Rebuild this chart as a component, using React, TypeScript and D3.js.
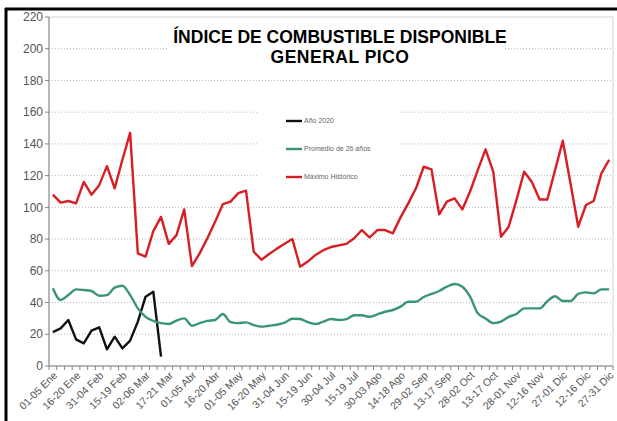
import React, { useEffect, useRef } from "react"
import * as d3 from "d3"

// tick labels, one every 3 periods of 5 days
const tickLabels: string[] = [
  "01-05 Ene", "16-20 Ene", "31-04 Feb", "15-19 Feb", "02-06 Mar", "17-21 Mar",
  "01-05 Abr", "16-20 Abr", "01-05 May", "16-20 May", "31-04 Jun", "15-19 Jun",
  "30-04 Jul", "15-19 Jul", "30-03 Ago", "14-18 Ago", "29-02 Sep", "13-17 Sep",
  "28-02 Oct", "13-17 Oct", "28-01 Nov", "12-16 Nov", "27-01 Dic", "12-16 Dic",
  "27-31 Dic",
]

const maximoHistorico: number[] = [
  108, 103, 104, 102.5, 116, 108, 114, 126, 112, 130,
  147, 71, 69, 85, 94, 77, 82.5, 98.7, 63, 71,
  80.5, 91, 102, 103.6, 109, 110.5, 72, 67, 70.6, 74,
  77, 80, 62.6, 65.8, 70, 73, 75, 76, 77, 80.5,
  85.7, 81, 85.7, 85.7, 83.6, 93.7, 102.5, 112, 125.6, 124,
  95.6, 103.6, 105.7, 98.7, 110, 123.5, 136.6, 122.5, 81.5, 87.8,
  104.6, 122.5, 116, 105, 105, 123.5, 142, 115, 87.8, 101.5,
  104, 121.4, 130,
]

const promedio26: number[] = [
  49, 41.6, 44.7, 48.3, 47.9, 47.3, 44.3, 44.7, 49.4, 50.6,
  44.7, 36.3, 31, 28.4, 27, 26.5, 28.6, 30, 25.4, 27,
  28.4, 29, 32.8, 27.7, 27, 27.5, 25.8, 24.8, 25.4, 26,
  27.3, 29.8, 29.6, 27.7, 26.5, 28, 29.6, 29, 29.6, 32,
  32, 31, 32.6, 34.2, 35.3, 37.4, 40.5, 40.5, 43.5, 45.4,
  47.3, 50, 51.7, 50, 43.7, 33.2, 30, 27, 28, 31,
  32.8, 36.3, 36.3, 36.3, 40.8, 44, 41, 41, 45.4, 46.4,
  45.8, 48.3, 48.3,
]

const anio2020: number[] = [
  21.4, 23.7, 29, 16.8, 14.3, 22.3, 24.4, 10.5, 18.5, 11.1,
  16, 28, 43.7, 46.8, 5.9,
]

const yTicks: number[] = [0, 20, 40, 60, 80, 100, 120, 140, 160, 180, 200, 220]

const series = [
  { name: "Año 2020", values: anio2020, color: "#111111", smooth: false },
  { name: "Promedio de 26 años", values: promedio26, color: "#3a9672", smooth: true },
  { name: "Máximo Histórico", values: maximoHistorico, color: "#d81e25", smooth: false },
]

export default function App() {
  const svgRef = useRef<SVGSVGElement>(null)

  useEffect(() => {
    if (!svgRef.current) return
    const svg = d3.select(svgRef.current)
    svg.selectAll("*").remove()

    const W = 617
    const H = 421
    const left = 49, right = 613, top = 17, bottom = 366
    const font = "'Liberation Sans', Arial, sans-serif"

    svg.attr("width", W).attr("height", H)
    svg.append("rect").attr("width", W).attr("height", H).attr("fill", "#fff")

    // outer frame (only left and top visible)
    svg.append("line").attr("x1", 6).attr("x2", 6).attr("y1", 8).attr("y2", H)
      .attr("stroke", "#000").attr("stroke-width", 3)
    svg.append("line").attr("x1", 5).attr("x2", W).attr("y1", 9).attr("y2", 9)
      .attr("stroke", "#000").attr("stroke-width", 3)

    const nCat = maximoHistorico.length
    const x = d3.scaleBand<number>().domain(d3.range(nCat)).range([left, right])
    const cx = (i: number) => (x(i) || 0) + x.bandwidth() / 2
    const y = d3.scaleLinear().domain([0, 220]).range([bottom, top])

    // plot area border
    svg.append("rect")
      .attr("x", left).attr("y", top)
      .attr("width", right - left).attr("height", bottom - top)
      .attr("fill", "none").attr("stroke", "#d4d4d4")

    // gridlines
    svg.append("g")
      .selectAll("line")
      .data(yTicks.filter(t => t > 0 && t < 220))
      .enter()
      .append("line")
      .attr("x1", left).attr("x2", right)
      .attr("y1", d => y(d)).attr("y2", d => y(d))
      .attr("stroke", "#b8b8b8")
      .attr("stroke-dasharray", "1,2")

    // title and legend boxes hide the gridlines behind them
    svg.append("rect").attr("x", 168).attr("y", 24).attr("width", 335).attr("height", 48).attr("fill", "#fff")
    svg.append("rect").attr("x", 257).attr("y", 100).attr("width", 143).attr("height", 96).attr("fill", "#fff")

    // title
    const title = svg.append("text")
      .attr("text-anchor", "middle")
      .attr("font-family", font)
      .attr("font-weight", "bold")
      .attr("font-size", "17.5px")
      .attr("fill", "#000")
    title.append("tspan").attr("x", 340).attr("y", 43).text("ÍNDICE DE COMBUSTIBLE DISPONIBLE")
    title.append("tspan").attr("x", 340).attr("y", 63).attr("letter-spacing", "0.5px").text("GENERAL PICO")

    // y axis
    svg.append("line").attr("x1", left).attr("x2", left).attr("y1", top).attr("y2", bottom)
      .attr("stroke", "#868686")
    const yAxis = svg.append("g")
    yAxis.selectAll("line")
      .data(yTicks)
      .enter()
      .append("line")
      .attr("x1", left - 4).attr("x2", left)
      .attr("y1", d => y(d)).attr("y2", d => y(d))
      .attr("stroke", "#868686")
    yAxis.selectAll("text")
      .data(yTicks)
      .enter()
      .append("text")
      .attr("x", 43)
      .attr("y", d => y(d))
      .attr("dy", "0.35em")
      .attr("text-anchor", "end")
      .attr("font-family", font)
      .attr("font-size", "12px")
      .attr("fill", "#555")
      .text(d => d)

    // x axis
    svg.append("line").attr("x1", left).attr("x2", right).attr("y1", bottom).attr("y2", bottom)
      .attr("stroke", "#868686")
    svg.append("g")
      .selectAll("line")
      .data(d3.range(nCat + 1))
      .enter()
      .append("line")
      .attr("x1", i => left + i * x.bandwidth())
      .attr("x2", i => left + i * x.bandwidth())
      .attr("y1", bottom).attr("y2", bottom + 4)
      .attr("stroke", "#868686")
    svg.append("g")
      .selectAll("text")
      .data(tickLabels)
      .enter()
      .append("text")
      .attr("transform", (d, i) => `translate(${cx(i * 3) + 5},${bottom + 10}) rotate(-45)`)
      .attr("text-anchor", "end")
      .attr("font-family", font)
      .attr("font-size", "10.5px")
      .attr("fill", "#555")
      .text(d => d)

    // series lines
    series.forEach(s => {
      const line = d3.line<number>()
        .x((d, i) => cx(i))
        .y(d => y(d))
        .curve(s.smooth ? d3.curveMonotoneX : d3.curveLinear)
      svg.append("path")
        .datum(s.values)
        .attr("d", line)
        .attr("fill", "none")
        .attr("stroke", s.color)
        .attr("stroke-width", 2.4)
        .attr("stroke-linejoin", "round")
    })

    // legend
    const legend = svg.append("g")
    series.forEach((s, k) => {
      const ly = 121 + k * 28
      legend.append("line")
        .attr("x1", 286).attr("x2", 302).attr("y1", ly).attr("y2", ly)
        .attr("stroke", s.color).attr("stroke-width", 2.4)
      legend.append("text")
        .attr("x", 304).attr("y", ly).attr("dy", "0.35em")
        .attr("font-family", font)
        .attr("font-size", "7px")
        .attr("fill", "#666")
        .text(s.name)
    })
  }, [])

  return (
    <svg ref={svgRef} style={{ position: "absolute", left: 0, top: 0, display: "block" }}></svg>
  )
}
